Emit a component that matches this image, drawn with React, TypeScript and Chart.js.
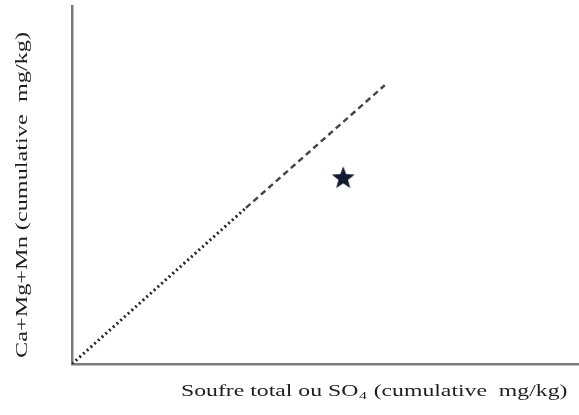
import React, { useEffect, useRef } from "react";
import { Chart, registerables } from "chart.js";

Chart.register(...registerables);

// Data (axis units 0..100, no ticks shown in the original)
const dottedLine = [
  { x: 0, y: 0 },
  { x: 34.3, y: 43.6 },
];
const dashedLine = [
  { x: 34.3, y: 43.6 },
  { x: 61.7, y: 77.9 },
];
const starPoint = [{ x: 53.5, y: 52.2 }];
const xTitleMain = "Soufre total ou SO";
const xTitleSub = "4";
const xTitleRest = " (cumulative  mg/kg)";
const yTitle = "Ca+Mg+Mn (cumulative  mg/kg)";

function makeStar(size: number, color: string): HTMLCanvasElement {
  const c = document.createElement("canvas");
  c.width = size;
  c.height = size;
  const ctx = c.getContext("2d")!;
  const cx = size / 2;
  const cy = size / 2 + size * 0.05;
  const R = size / 2;
  const r = R * 0.42;
  ctx.beginPath();
  for (let i = 0; i < 10; i++) {
    const rad = i % 2 === 0 ? R : r;
    const a = -Math.PI / 2 + (i * Math.PI) / 5;
    const px = cx + rad * Math.cos(a);
    const py = cy + rad * Math.sin(a);
    if (i === 0) ctx.moveTo(px, py);
    else ctx.lineTo(px, py);
  }
  ctx.closePath();
  ctx.fillStyle = color;
  ctx.fill();
  return c;
}

const titlesPlugin = {
  id: "customTitles",
  afterDraw(chart: any) {
    const ctx = chart.ctx as CanvasRenderingContext2D;
    const font = '16.5px "Liberation Serif", "Times New Roman", serif';
    const subFont = '11px "Liberation Serif", "Times New Roman", serif';
    ctx.save();
    ctx.fillStyle = "#1e1e1e";
    ctx.textBaseline = "alphabetic";
    // X title
    ctx.font = font;
    const w1 = ctx.measureText(xTitleMain).width;
    ctx.font = subFont;
    const w2 = ctx.measureText(xTitleSub).width;
    ctx.font = font;
    const w3 = ctx.measureText(xTitleRest).width;
    const total = w1 + w2 + w3;
    const targetW = 385;
    const sx = targetW / total;
    const left = 181;
    ctx.save();
    ctx.translate(left, 396);
    ctx.scale(sx, 1);
    ctx.textAlign = "left";
    ctx.font = font;
    ctx.fillText(xTitleMain, 0, 0);
    ctx.font = subFont;
    ctx.fillText(xTitleSub, w1 + 0.5, 3);
    ctx.font = font;
    ctx.fillText(xTitleRest, w1 + w2 + 1, 0);
    ctx.restore();
    // Y title
    ctx.font = font;
    const wy = ctx.measureText(yTitle).width;
    const sy = 326 / wy;
    ctx.save();
    ctx.translate(27, 195);
    ctx.rotate(-Math.PI / 2);
    ctx.scale(sy, 1);
    ctx.textAlign = "center";
    ctx.fillText(yTitle, 0, 0);
    ctx.restore();
    ctx.restore();
  },
};

export default function App() {
  const ref = useRef<HTMLCanvasElement>(null);
  useEffect(() => {
    if (!ref.current) return;
    const star = makeStar(24, "#121a30");
    const chart = new Chart(ref.current, {
      type: "scatter",
      data: {
        datasets: [
          {
            data: dottedLine,
            showLine: true,
            borderColor: "#262626",
            borderWidth: 3,
            borderDash: [2, 3],
            pointRadius: 0,
            fill: false,
          },
          {
            data: dashedLine,
            showLine: true,
            borderColor: "#484848",
            borderWidth: 2.5,
            borderDash: [6, 4],
            pointRadius: 0,
            fill: false,
          },
          {
            data: starPoint,
            showLine: false,
            pointStyle: star as any,
            pointRadius: 12,
          },
        ],
      },
      options: {
        responsive: false,
        animation: false,
        layout: { autoPadding: false, padding: { left: 72, top: 6, right: 0, bottom: 51 } },
        plugins: {
          legend: { display: false },
          tooltip: { enabled: false },
        },
        scales: {
          x: {
            type: "linear",
            min: 0,
            max: 100,
            grid: { display: false, drawTicks: false, tickLength: 0 },
            ticks: { display: false, padding: 0 },
            border: { display: true, color: "#7a7a7a", width: 2.5 },
          },
          y: {
            type: "linear",
            min: 0,
            max: 100,
            grid: { display: false, drawTicks: false, tickLength: 0 },
            ticks: { display: false, padding: 0 },
            border: { display: true, color: "#7a7a7a", width: 2.5 },
          },
        },
      },
      plugins: [titlesPlugin],
    });
    return () => chart.destroy();
  }, []);
  return (
    <div style={{ position: "absolute", left: 0, top: 0, width: 579, height: 415, background: "#fff" }}>
      <canvas ref={ref} width={579} height={415} />
    </div>
  );
}
